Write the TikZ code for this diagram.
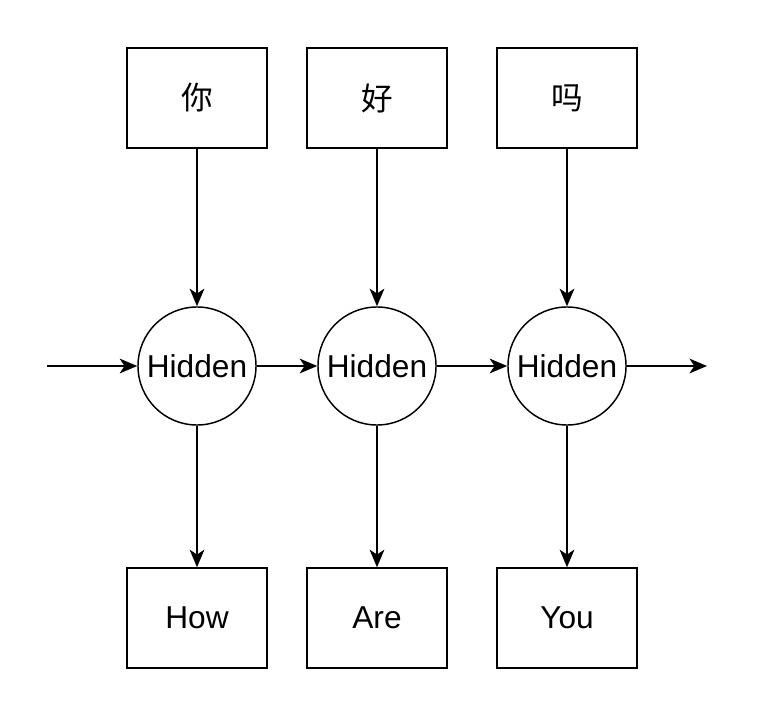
\documentclass[tikz,border=0pt]{standalone}
\usepackage{fontspec}
\setmainfont{Liberation Sans}
\newfontfamily\cjk{Noto Sans CJK SC}
\usepackage{tikz}
\usetikzlibrary{arrows.meta}
\tikzstyle{word} = [draw, line width=1.05pt, minimum width=3.5cm, minimum height=2.5cm, inner sep=0pt, font=\fontsize{22.5}{26}\selectfont]
\tikzstyle{hidden} = [draw, circle, line width=1.05pt, minimum size=2.95cm, inner sep=0pt, font=\fontsize{22.5}{26}\selectfont]
\tikzstyle{link} = [line width=1.05pt, -{Stealth[length=12.5pt,width=10.5pt,inset=3.5pt]}]

\begin{document}
\begin{tikzpicture}[x=0.025cm,y=-0.025cm]
			\useasboundingbox (0,0) rectangle (762,728);
			\node[word] (in1) at (197,98) {\cjk 你};
			\node[word] (in2) at (377,98) {\cjk 好};
			\node[word] (in3) at (567,98) {\cjk 吗};
			\node[hidden] (h1) at (197,366) {Hidden};
			\node[hidden] (h2) at (377,366) {Hidden};
			\node[hidden] (h3) at (567,366) {Hidden};
			\node[word] (out1) at (197,618) {How};
			\node[word] (out2) at (377,618) {Are};
			\node[word] (out3) at (567,618) {You};
			\coordinate (start) at (47,366);
			\coordinate (end) at (707,366);
			\draw[link] (in1) -- (h1);
			\draw[link] (in2) -- (h2);
			\draw[link] (in3) -- (h3);
			\draw[link] (h1) -- (out1);
			\draw[link] (h2) -- (out2);
			\draw[link] (h3) -- (out3);
			\draw[link] (start) -- (h1);
			\draw[link] (h1) -- (h2);
			\draw[link] (h2) -- (h3);
			\draw[link] (h3) -- (end);
		\end{tikzpicture}
\end{document}
